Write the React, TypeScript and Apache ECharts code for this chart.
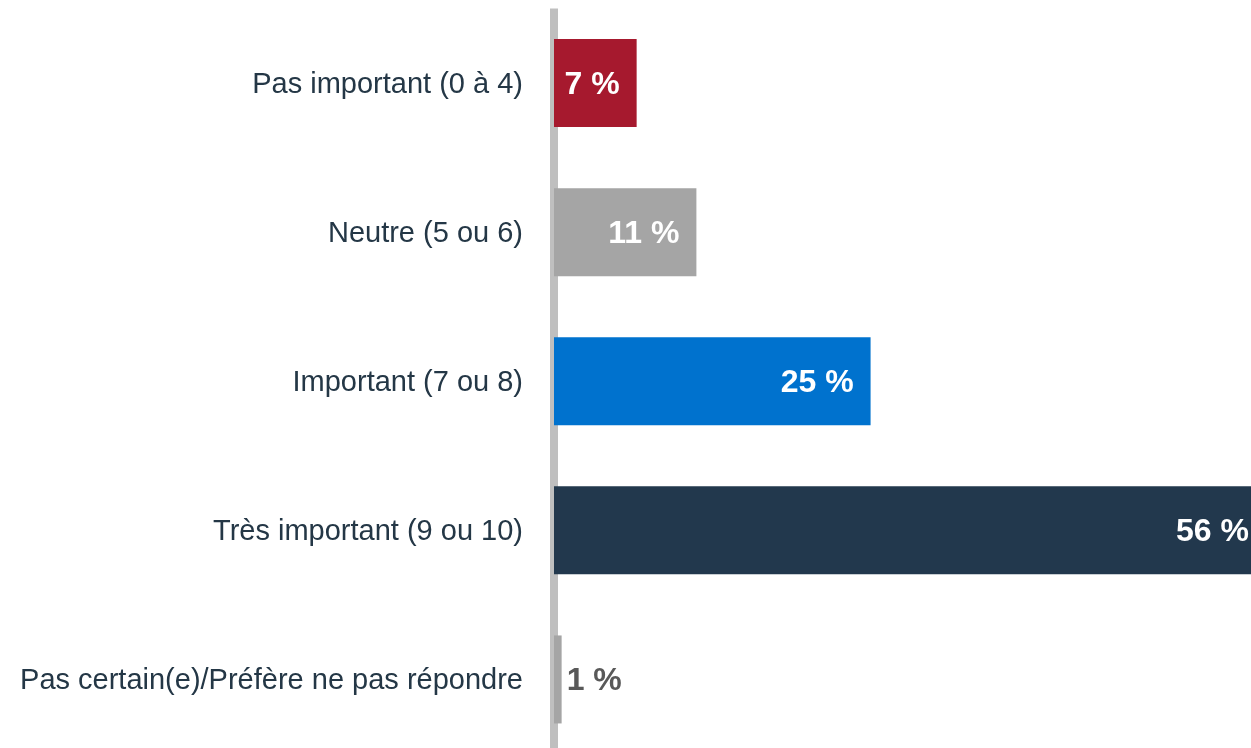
import React, { useEffect, useRef } from "react";
import * as echarts from "echarts";

const categories = [
  "Pas important (0 à 4)",
  "Neutre (5 ou 6)",
  "Important (7 ou 8)",
  "Très important (9 ou 10)",
  "Pas certain(e)/Préfère ne pas répondre",
];
const values = [6.5, 11.2, 24.9, 56, 0.6];
const labels = ["7 %", "11 %", "25 %", "56 %", "1 %"];
const barColors = ["#A6192E", "#A5A5A5", "#0072CE", "#22384D", "#A5A5A5"];
const outsideIndex = 4;

export default function App() {
  const ref = useRef<HTMLDivElement>(null);
  useEffect(() => {
    if (!ref.current) return;
    const chart = echarts.init(ref.current, null, { renderer: "svg" });
    const font = "'Liberation Sans', Arial, sans-serif";
    chart.setOption({
      animation: false,
      grid: { left: 554, right: 0, top: 8.5, bottom: 0, containLabel: false },
      xAxis: {
        type: "value",
        min: 0,
        max: 56,
        show: false,
      },
      yAxis: {
        type: "category",
        data: categories,
        inverse: true,
        offset: 4,
        axisLine: { show: true, lineStyle: { color: "#BFBFBF", width: 8, cap: "butt" } },
        axisTick: { show: false },
        axisLabel: {
          margin: 27,
          color: "#243746",
          fontSize: 29,
          fontFamily: font,
        },
        splitLine: { show: false },
      },
      series: [
        {
          type: "bar",
          barWidth: 88,
          data: values.map((v, i) => ({
            value: v,
            itemStyle: { color: barColors[i] },
            label:
              i === outsideIndex
                ? { position: "right", distance: 5, color: "#595959" }
                : { position: "insideRight", distance: 17, color: "#FFFFFF" },
          })),
          label: {
            show: true,
            fontSize: 32,
            fontWeight: "bold",
            fontFamily: font,
            formatter: (p: any) => labels[p.dataIndex],
          },
        },
      ],
    });
    return () => chart.dispose();
  }, []);
  return (
    <div style={{ position: "fixed", left: 0, top: 0, width: 1251, height: 748, overflow: "hidden" }}>
      <div ref={ref} style={{ width: 1266, height: 754 }} />
    </div>
  );
}
